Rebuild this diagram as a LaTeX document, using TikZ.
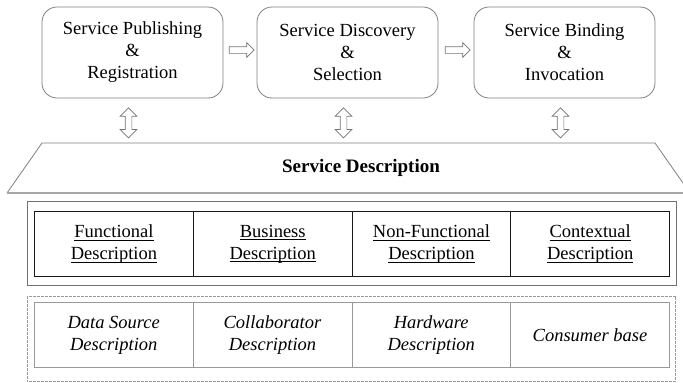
\documentclass[tikz,border=0pt]{standalone}
\usepackage{fontspec}
\setmainfont{Liberation Serif}
\usetikzlibrary{shapes.arrows,calc}

% underline close to the baseline
\newcommand{\undl}[1]{\leavevmode\setbox0\hbox{#1}\rlap{\rule[-2.8pt]{\wd0}{0.7pt}}\box0}

\begin{document}
\begin{tikzpicture}[x=1pt,y=-1pt,
    every node/.style={font=\fontsize{18.5}{22}\selectfont},
    phase/.style={draw=black!50, line width=0.8pt, rounded corners=15pt,
      minimum width=181pt, minimum height=91pt, align=center},
    flow/.style={single arrow, draw=black!55, line width=0.7pt, inner sep=3pt,
      minimum height=25pt, single arrow head extend=4pt},
    link/.style={double arrow, draw=black!55, line width=0.7pt, inner sep=3pt,
      minimum height=30pt, double arrow head extend=5pt, shape border rotate=90},
    cell/.style={draw=black!90, line width=1.2pt, minimum width=158.75pt,
      minimum height=65pt, inner sep=0pt, align=center},
    softcell/.style={draw=black!40, line width=0.7pt, minimum width=158.75pt,
      minimum height=65pt, inner sep=0pt, align=center, font=\fontsize{18.5}{22}\selectfont\itshape}]

    \useasboundingbox (0,0) rectangle (683,383);

    % Define cell size
    \def\cellwidth{158.75}

    % Lifecycle phases
    \node[phase] (publish) at (132.5,52.5) {Service Publishing\\\&\\Registration};
    \node[phase] (discover) at (347.5,52.5) {Service Discovery\\\&\\Selection};
    \node[phase] (bind) at (564.5,52.5) {Service Binding\\\&\\Invocation};

    % Arrows between phases
    \node[flow] (pubdis) at ($(publish.east)!0.5!(discover.west)+(0,-2.5)$) {};
    \node[flow] (disbin) at ($(discover.east)!0.5!(bind.west)+(0,-2.5)$) {};

    % Arrows down to the description
    \foreach \phase in {publish, discover, bind} {
        \node[link] (\phase-link) at ($(\phase.south)+(-4,24.5)$) {};
    }

    % Service description band
    \coordinate (band-tl) at (42,143);
    \coordinate (band-tr) at (655,143);
    \coordinate (band-bl) at (7,193);
    \coordinate (band-br) at (690,193);
    \draw[black!50, line width=0.8pt] (band-bl) -- (band-tl) -- (band-tr) -- (band-br);
    \draw[black!35, line width=2pt] (band-bl) -- (band-br);
    \node[font=\fontsize{19}{22}\selectfont\bfseries] (desc) at (361,168) {Service Description};

    % Main description parts
    \foreach \label [count=\i] in {Functional, Business, Non-Functional, Contextual} {
        \pgfmathsetmacro\xpos{34 + (\i-1)*\cellwidth}
        \node[cell, anchor=north west] (main\i) at (\xpos, 211)
            {\undl{\label}\\\undl{Description}};
    }
    \draw[black!55, line width=0.8pt] ($(main1.north west)+(-7,-10)$) rectangle ($(main4.south east)+(6,8)$);

    % Context description parts
    \foreach \label [count=\i] in {Data Source\\Description, Collaborator\\Description, Hardware\\Description, Consumer base} {
        \pgfmathsetmacro\xpos{34 + (\i-1)*\cellwidth}
        \node[softcell, anchor=north west] (extra\i) at (\xpos, 302) {\label};
    }
    \draw[black!40, line width=0.7pt, dash pattern=on 3pt off 1pt] ($(extra1.north west)+(-7,-6)$) rectangle ($(extra4.south east)+(6,14)$);

\end{tikzpicture}
\end{document}
